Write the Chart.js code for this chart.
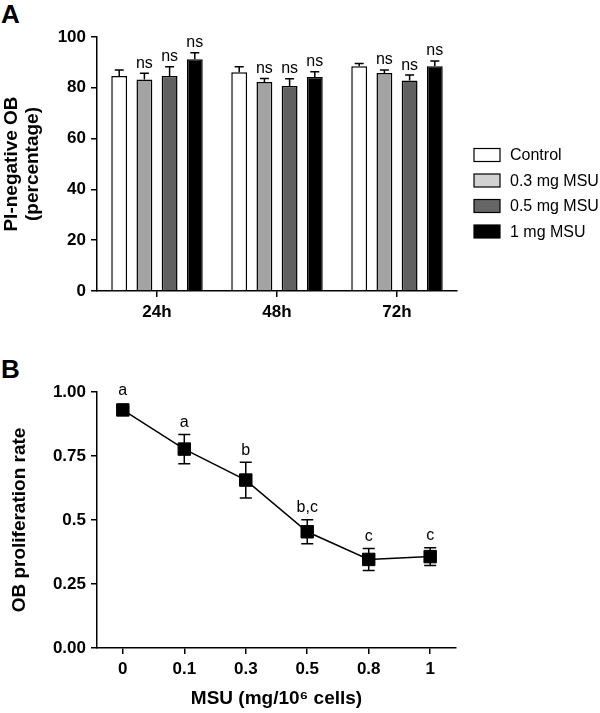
<!DOCTYPE html>
<html>
<head>
<meta charset="utf-8">
<script src="https://cdn.jsdelivr.net/npm/chart.js@4"></script>
<style>
    html, body { margin: 0; padding: 0; background: #fff; }
    #page { position: relative; width: 600px; height: 713px; font-family: 'Liberation Sans', Arial, sans-serif; }
    .painel { position: absolute; left: 0; width: 600px; }
    .letra { position: absolute; left: 1px; font-weight: bold; font-size: 26px; line-height: 26px; color: #000; }
</style>
</head>
<body>
<div id="page">
    <div class="letra" style="top: 1px;">A</div>
    <div class="letra" style="top: 356px;">B</div>
    <div class="painel" style="top: 0; height: 330px;"><canvas id="graficoA"></canvas></div>
    <div class="painel" style="top: 330px; height: 383px;"><canvas id="graficoB"></canvas></div>
</div>
<script>
// Dados do painel A (PI-negative OB, %)
const tempos = ['24h', '48h', '72h'];
const grupos = ['Control', '0.3 mg MSU', '0.5 mg MSU', '1 mg MSU'];
const controle = [84.6, 86.1, 88.5];
const msu03 = [83.3, 82.3, 85.8];
const msu05 = [84.6, 80.7, 82.9];
const msu1 = [91.2, 84.3, 88.5];
const erroControle = [2.4, 2.2, 1.1];
const erroMsu03 = [2.4, 1.4, 1.2];
const erroMsu05 = [3.7, 2.9, 2.1];
const erroMsu1 = [2.6, 2.0, 2.1];
const rotulosA = ['', 'ns', 'ns', 'ns'];
const ticksA = [0, 20, 40, 60, 80, 100];

// Dados do painel B (taxa de proliferação)
const doses = ['0', '0.1', '0.3', '0.5', '0.8', '1'];
const proliferacao = [0.93, 0.777, 0.656, 0.454, 0.346, 0.357];
const erroProliferacao = [0.01, 0.057, 0.07, 0.047, 0.043, 0.035];
const letrasB = ['a', 'a', 'b', 'b,c', 'c', 'c'];
const ticksB = ['0.00', '0.25', '0.5', '0.75', '1.00'];

Chart.defaults.font.family = "'Liberation Sans', Arial, sans-serif";
Chart.defaults.color = '#000';

const coresBarras = ['#ffffff', '#a3a3a3', '#616161', '#000000'];
const coresLegenda = ['#ffffff', '#d2d2d2', '#666666', '#000000'];
const errosA = [erroControle, erroMsu03, erroMsu05, erroMsu1];

// Barras de erro (só para cima) + "ns"
const errosBarrasPlugin = {
    id: 'errosBarras',
    afterDatasetsDraw(chart) {
        const ctx = chart.ctx;
        const y = chart.scales.y;
        ctx.save();
        ctx.strokeStyle = '#000';
        ctx.lineWidth = 1.5;
        chart.data.datasets.forEach((ds, i) => {
            const meta = chart.getDatasetMeta(i);
            meta.data.forEach((bar, j) => {
                const topo = y.getPixelForValue(ds.data[j] + errosA[i][j]);
                ctx.beginPath();
                ctx.moveTo(bar.x, bar.y);
                ctx.lineTo(bar.x, topo);
                ctx.moveTo(bar.x - 4.5, topo);
                ctx.lineTo(bar.x + 4.5, topo);
                ctx.stroke();
                if (rotulosA[i]) {
                    ctx.fillStyle = '#000';
                    ctx.font = "16px 'Liberation Sans', Arial, sans-serif";
                    ctx.textAlign = 'center';
                    ctx.textBaseline = 'middle';
                    ctx.fillText(rotulosA[i], bar.x, topo - 10);
                }
            });
        });
        ctx.restore();
    }
};

// Legenda desenhada à direita
const legendaPlugin = {
    id: 'legendaA',
    afterDraw(chart) {
        const ctx = chart.ctx;
        ctx.save();
        ctx.font = "16px 'Liberation Sans', Arial, sans-serif";
        ctx.textAlign = 'left';
        ctx.textBaseline = 'middle';
        chart.data.datasets.forEach((ds, i) => {
            const yc = 155 + i * 25.5;
            ctx.fillStyle = coresLegenda[i];
            ctx.fillRect(474, yc - 6.5, 26, 13);
            ctx.strokeStyle = '#000';
            ctx.lineWidth = 1.2;
            ctx.strokeRect(474, yc - 6.5, 26, 13);
            ctx.fillStyle = '#000';
            ctx.fillText(ds.label, 510, yc + 1);
        });
        ctx.restore();
    }
};

new Chart(document.getElementById('graficoA'), {
    type: 'bar',
    data: {
        labels: tempos,
        datasets: [controle, msu03, msu05, msu1].map((serie, i) => ({
            label: grupos[i],
            data: serie,
            backgroundColor: coresBarras[i],
            borderColor: '#000',
            borderWidth: 1.5,
            categoryPercentage: 0.84,
            barPercentage: 0.63
        }))
    },
    options: {
        responsive: true,
        maintainAspectRatio: false,
        animation: false,
        layout: { padding: { left: 0, right: 143, top: 37, bottom: 0 } },
        plugins: { legend: { display: false }, tooltip: { enabled: false } },
        scales: {
            x: {
                offset: true,
                grid: { display: true, drawOnChartArea: false, offset: false, tickLength: 6, color: '#000', lineWidth: 1.5 },
                border: { color: '#000', width: 1.5 },
                ticks: { font: { size: 17, weight: 'bold' }, padding: 5 },
                afterFit(scale) { scale.height = 39; }
            },
            y: {
                min: 0,
                max: 100,
                afterBuildTicks(scale) { scale.ticks = ticksA.map(v => ({ value: v })); },
                grid: { display: true, drawOnChartArea: false, tickLength: 6, color: '#000', lineWidth: 1.5 },
                border: { color: '#000', width: 1.5 },
                ticks: { font: { size: 17, weight: 'bold' }, padding: 5 },
                title: {
                    display: true,
                    text: ['PI-negative OB', '(percentage)'],
                    font: { size: 19, weight: 'bold', lineHeight: 1.1 },
                    padding: { top: 1, bottom: 0 }
                },
                afterFit(scale) { scale.width = 97; }
            }
        }
    },
    plugins: [errosBarrasPlugin, legendaPlugin]
});

// Barras de erro e letras do painel B
const errosLinhaPlugin = {
    id: 'errosLinha',
    beforeDatasetsDraw(chart) {
        const ctx = chart.ctx;
        const x = chart.scales.x;
        const y = chart.scales.y;
        ctx.save();
        ctx.strokeStyle = '#000';
        ctx.lineWidth = 1.5;
        proliferacao.forEach((v, i) => {
            const px = x.getPixelForValue(i);
            const alto = y.getPixelForValue(v + erroProliferacao[i]);
            const baixo = y.getPixelForValue(v - erroProliferacao[i]);
            ctx.beginPath();
            ctx.moveTo(px, alto);
            ctx.lineTo(px, baixo);
            ctx.moveTo(px - 6, alto);
            ctx.lineTo(px + 6, alto);
            ctx.moveTo(px - 6, baixo);
            ctx.lineTo(px + 6, baixo);
            ctx.stroke();
            ctx.fillStyle = '#000';
            ctx.font = "16px 'Liberation Sans', Arial, sans-serif";
            ctx.textAlign = 'center';
            ctx.textBaseline = 'middle';
            ctx.fillText(letrasB[i], px, Math.min(alto, y.getPixelForValue(v) - 7) - 12);
        });
        ctx.restore();
    }
};

new Chart(document.getElementById('graficoB'), {
    type: 'line',
    data: {
        datasets: [{
            label: 'OB proliferation rate',
            data: proliferacao.map((v, i) => ({ x: i, y: v })),
            borderColor: '#000',
            borderWidth: 1.5,
            backgroundColor: '#000',
            pointStyle: 'rect',
            pointRadius: 8.8,
            pointBackgroundColor: '#000',
            pointBorderColor: '#000',
            pointBorderWidth: 1,
            tension: 0
        }]
    },
    options: {
        responsive: true,
        maintainAspectRatio: false,
        animation: false,
        layout: { padding: { left: 0, right: 144, top: 62, bottom: 0 } },
        plugins: { legend: { display: false }, tooltip: { enabled: false } },
        scales: {
            x: {
                type: 'linear',
                min: -0.42,
                max: 5.42,
                afterBuildTicks(scale) { scale.ticks = doses.map((d, i) => ({ value: i })); },
                grid: { display: true, drawOnChartArea: false, tickLength: 6, color: '#000', lineWidth: 1.5 },
                border: { color: '#000', width: 1.5 },
                ticks: {
                    font: { size: 17, weight: 'bold' },
                    padding: 5,
                    callback: (value) => doses[value]
                },
                title: {
                    display: true,
                    text: 'MSU (mg/10\u2076 cells)',
                    font: { size: 19, weight: 'bold', lineHeight: 1.1 },
                    padding: { top: 0, bottom: 3.5 }
                },
                afterFit(scale) { scale.height = 65; }
            },
            y: {
                min: 0,
                max: 1,
                afterBuildTicks(scale) { scale.ticks = ticksB.map((t, i) => ({ value: i * 0.25 })); },
                grid: { display: true, drawOnChartArea: false, tickLength: 6, color: '#000', lineWidth: 1.5 },
                border: { color: '#000', width: 1.5 },
                ticks: {
                    font: { size: 17, weight: 'bold' },
                    padding: 5,
                    callback: (value) => ticksB[Math.round(value / 0.25)]
                },
                title: {
                    display: true,
                    text: 'OB proliferation rate',
                    font: { size: 19, weight: 'bold', lineHeight: 1.1 },
                    padding: { top: 9.5, bottom: 0 }
                },
                afterFit(scale) { scale.width = 97; }
            }
        }
    },
    plugins: [errosLinhaPlugin]
});
</script>
</body>
</html>
